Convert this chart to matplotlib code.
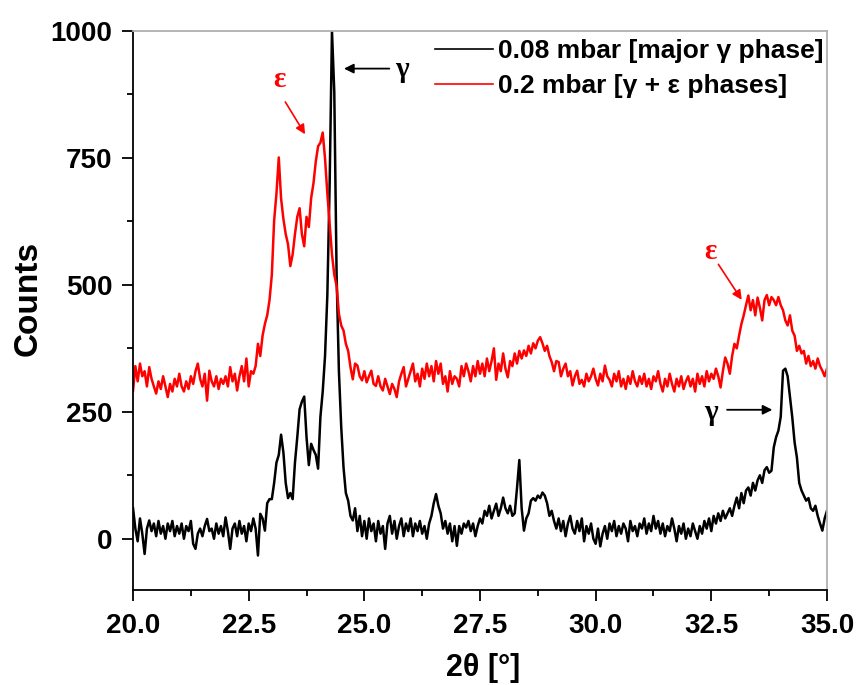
import numpy as np
import matplotlib
matplotlib.use("Agg")
import matplotlib.pyplot as plt

# ---------------------------------------------------------------------------
# Data (2theta step 0.05 deg, 20.00 .. 35.00)
# ---------------------------------------------------------------------------
two_theta = np.round(np.arange(20.0, 35.0001, 0.05), 2)

# 0.08 mbar [major gamma phase]
counts_008 = [
    60, 20, -5, 40, 10, -30, 20, 36, 15, 30, 5, 35, 10, 25, 0, 30, 15, 35, 5, 25,            # 20
    10, 30, 0, 25, 15, 35, -10, -20, 10, 20, 5, 25, 39, 15, 20, 0, 30, 10, 25, 5,            # 21
    42, 15, -20, 20, 30, 5, 35, 10, 25, -5, 30, 15, 40, 20, -33, 49, 40, 16, 70, 78,         # 22
    78, 110, 150, 165, 205, 170, 110, 80, 90, 78, 150, 200, 255, 270, 280, 200, 145, 187, 175, 165,  # 23
    138, 240, 290, 360, 480, 700, 1000, 880, 520, 330, 220, 140, 90, 75, 45, 36, 60, 15, 45, 5,      # 24
    35, 0, 40, 15, 30, -5, 35, 10, 25, -20, 30, 45, 10, 35, 0, 25, 40, 5, 30, 15,            # 25
    40, 5, 30, 15, 35, 10, 25, 0, 30, 45, 70, 88, 65, 50, 20, 35, 10, 30, -5, 25,            # 26
    -14, 25, 10, 30, 22, 35, 15, 30, 5, 25, 40, 30, 55, 45, 65, 40, 55, 69, 45, 60,          # 27
    81, 60, 50, 65, 45, 50, 100, 155, 60, 16, 40, 50, 75, 80, 75, 85, 80, 91, 85, 70,        # 28
    45, 55, 35, 20, 40, 15, 35, 5, 30, 45, 20, 10, 35, 15, 40, -5, 25, 10, 30, 0,            # 29
    -10, 20, -15, 10, 25, 0, 30, 15, 35, 5, 25, 10, 30, 20, -5, 35, 15, 25, 5, 30,           # 30
    20, 40, 10, 30, 15, 45, 20, 35, 10, 30, 5, 25, 15, 40, 20, -5, 25, 10, 30, 0,            # 31
    20, 5, 30, 15, 0, 25, 10, 35, 20, 40, 15, 45, 30, 50, 35, 55, 40, 50, 60, 45,            # 32
    65, 81, 60, 90, 70, 95, 101, 85, 110, 95, 115, 125, 110, 135, 141, 130, 134, 180, 200, 213,      # 33
    240, 331, 335, 320, 280, 239, 190, 160, 110, 95, 85, 75, 80, 60, 55, 65, 45, 30, 16, 40,         # 34
    55,                                                                                   # 35
]

# 0.2 mbar [gamma + epsilon phases]
counts_02 = [
    292, 340, 310, 345, 320, 330, 300, 338, 315, 300, 286, 310, 295, 320, 300, 279, 305, 290, 315, 300,  # 20
    325, 300, 290, 310, 295, 320, 305, 330, 345, 315, 300, 325, 272, 331, 310, 300, 320, 295, 315, 305,  # 21
    320, 300, 338, 310, 325, 292, 320, 340, 310, 355, 300, 330, 325, 340, 384, 360, 400, 423, 440, 470,  # 22
    520, 627, 680, 751, 670, 630, 600, 580, 537, 560, 600, 634, 651, 600, 576, 634, 614, 671, 700, 743,  # 23
    773, 780, 800, 749, 680, 620, 560, 520, 498, 443, 420, 410, 384, 370, 338, 314, 345, 341, 320, 312,  # 24
    330, 308, 320, 331, 305, 301, 320, 300, 292, 315, 300, 285, 305, 295, 279, 310, 325, 338, 300, 315,  # 25
    330, 345, 310, 325, 300, 335, 315, 345, 320, 340, 310, 350, 325, 345, 305, 320, 290, 330, 305, 320,  # 26
    315, 300, 340, 320, 345, 330, 310, 340, 320, 350, 325, 345, 320, 355, 330, 350, 375, 313, 345, 330,  # 27
    365, 335, 318, 350, 340, 365, 345, 370, 355, 371, 360, 380, 365, 385, 375, 390, 397, 385, 370, 380,  # 28
    360, 348, 330, 350, 348, 320, 335, 345, 320, 330, 302, 320, 331, 305, 313, 300, 325, 310, 320, 335,  # 29
    315, 302, 325, 310, 341, 320, 313, 300, 325, 310, 330, 300, 315, 295, 320, 305, 330, 310, 300, 320,  # 30
    305, 325, 300, 315, 295, 320, 310, 330, 305, 290, 315, 300, 325, 305, 290, 315, 300, 320, 295, 310,  # 31
    320, 300, 315, 290, 325, 305, 320, 300, 330, 310, 325, 315, 335, 320, 298, 330, 357, 345, 325, 360,  # 32
    384, 375, 400, 423, 440, 460, 479, 450, 470, 440, 475, 455, 430, 470, 480, 460, 476, 470, 460, 476,  # 33
    460, 450, 430, 420, 440, 410, 400, 370, 380, 365, 370, 345, 360, 340, 350, 335, 355, 340, 331, 320,  # 34
    335,                                                                                                 # 35
]

series_labels = ["0.08 mbar [major \u03b3 phase]", "0.2 mbar [\u03b3 + \u03b5 phases]"]
series_colors = ["black", "red"]

x_ticks = [20.0, 22.5, 25.0, 27.5, 30.0, 32.5, 35.0]
y_ticks = [0, 250, 500, 750, 1000]

# ---------------------------------------------------------------------------
plt.rcParams["font.family"] = ["Liberation Sans", "DejaVu Sans"]
plt.rcParams["font.weight"] = "bold"

fig = plt.figure(figsize=(8.6, 6.85), dpi=100)
ax = fig.add_axes([0.1547, 0.1394, 0.8069, 0.8153])

ax.plot(two_theta, counts_008, color=series_colors[0], lw=1.8, label=series_labels[0])
ax.plot(two_theta, counts_02, color=series_colors[1], lw=1.8, label=series_labels[1])

ax.set_xlim(20, 35)
ax.set_ylim(-100, 1000)
ax.set_xticks(x_ticks)
ax.set_xticklabels([f"{t:.1f}" for t in x_ticks])
ax.set_yticks(y_ticks)
ax.set_xticks(np.arange(21.25, 35, 2.5), minor=True)
ax.set_yticks(np.arange(125, 1000, 250), minor=True)

ax.tick_params(which="major", direction="out", length=8, width=1.3, labelsize=20, pad=7)
ax.tick_params(which="minor", direction="out", length=4, width=1.3)
ax.tick_params(axis="x", which="major", pad=9)
for lab in ax.get_xticklabels() + ax.get_yticklabels():
    lab.set_fontweight("bold")

for side in ("left", "bottom"):
    ax.spines[side].set_linewidth(1.3)
    ax.spines[side].set_color("black")
for side in ("top", "right"):
    ax.spines[side].set_linewidth(1.3)
    ax.spines[side].set_color("#b0b0b0")

ax.set_xlabel("2\u03b8 [\u00b0]", fontsize=22, fontweight="bold", va="center")
ax.set_ylabel("Counts", fontsize=24, fontweight="bold", va="center")
ax.xaxis.set_label_coords(0.505, -0.14)
ax.yaxis.set_label_coords(-0.151, 0.521)

# phase annotations
greek = dict(family=["Liberation Serif", "DejaVu Serif"], fontsize=21, fontweight="bold")
ax.text(23.17, 905, "\u03b5", color="red", ha="center", va="center", **greek)
ax.annotate("", xy=(23.75, 792), xytext=(23.26, 865),
            arrowprops=dict(arrowstyle="-|>", color="red", lw=1.2, mutation_scale=14))
ax.text(25.82, 925, "\u03b3", color="black", ha="center", va="center", **greek)
ax.annotate("", xy=(24.5, 926), xytext=(25.6, 926),
            arrowprops=dict(arrowstyle="-|>", color="black", lw=1.3, mutation_scale=14))

ax.text(32.48, 565, "\u03b5", color="red", ha="center", va="center", **greek)
ax.annotate("", xy=(33.19, 466), xytext=(32.62, 545),
            arrowprops=dict(arrowstyle="-|>", color="red", lw=1.2, mutation_scale=14))
ax.text(32.5, 248, "\u03b3", color="black", ha="center", va="center", **greek)
ax.annotate("", xy=(33.88, 254), xytext=(32.78, 254),
            arrowprops=dict(arrowstyle="-|>", color="black", lw=1.3, mutation_scale=14))

leg = ax.legend(loc="upper right", bbox_to_anchor=(0.999, 0.99), frameon=False,
                handlelength=2.2, handletextpad=0.2, borderaxespad=0.0, borderpad=0.1,
                labelspacing=0.4, prop={"weight": "bold", "size": 19})
for line in leg.get_lines():
    line.set_linewidth(1.2)

fig.savefig("out.png", dpi=100)
